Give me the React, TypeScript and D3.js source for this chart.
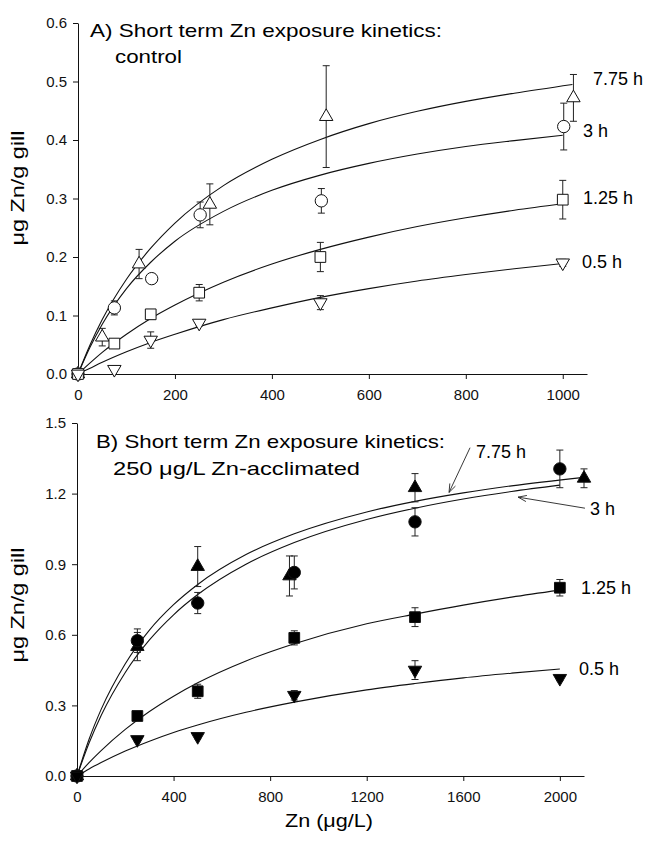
import React, { useEffect, useRef } from 'react';
import * as d3 from 'd3';

// ---------- Panel A: control ----------
const xTicksA = [0, 200, 400, 600, 800, 1000];
const yTicksA = [0, 0.1, 0.2, 0.3, 0.4, 0.5, 0.6];

// 7.75 h (open triangle)
const xA775 = [0, 50, 126, 272, 512, 1022];
const yA775 = [0, 0.063, 0.188, 0.29, 0.44, 0.472];
const eA775 = [0, 0.015, 0.025, 0.035, 0.087, 0.04];
// 3 h (open circle)
const xA3 = [0, 75, 152, 252, 502, 1002];
const yA3 = [0, 0.113, 0.163, 0.272, 0.296, 0.423];
const eA3 = [0, 0.012, 0.005, 0.022, 0.021, 0.04];
// 1.25 h (open square)
const xA125 = [0, 75, 150, 250, 500, 1000];
const yA125 = [0, 0.052, 0.102, 0.139, 0.2, 0.298];
const eA125 = [0, 0.004, 0.008, 0.014, 0.025, 0.033];
// 0.5 h (open down triangle)
const xA05 = [0, 75, 150, 250, 500, 1000];
const yA05 = [0, 0.008, 0.058, 0.087, 0.122, 0.19];
const eA05 = [0, 0, 0.014, 0.005, 0.012, 0.006];

// fitted curves
const fitXA = [0, 25, 50, 100, 150, 200, 300, 400, 500, 600, 700, 800, 900, 1000];
const fitXA775 = [0, 25, 50, 100, 150, 200, 300, 400, 500, 600, 700, 800, 900, 1020];
const fitA775 = [0, 0.05, 0.093, 0.162, 0.215, 0.258, 0.322, 0.367, 0.401, 0.428, 0.449, 0.466, 0.48, 0.495];
const fitA3 = [0, 0.046, 0.085, 0.146, 0.191, 0.227, 0.278, 0.314, 0.34, 0.36, 0.376, 0.389, 0.399, 0.408];
const fitA125 = [0, 0.019, 0.037, 0.068, 0.095, 0.118, 0.157, 0.188, 0.213, 0.234, 0.252, 0.267, 0.28, 0.291];
const fitA05 = [0, 0.01, 0.02, 0.038, 0.054, 0.068, 0.093, 0.113, 0.131, 0.146, 0.159, 0.17, 0.18, 0.189];

// ---------- Panel B: 250 ug/L Zn-acclimated ----------
const xTicksB = [0, 400, 800, 1200, 1600, 2000];
const yTicksB = [0, 0.3, 0.6, 0.9, 1.2, 1.5];

const xB775 = [0, 250, 500, 880, 1400, 2100];
const yB775 = [0, 0.55, 0.89, 0.85, 1.225, 1.265];
const eB775 = [0, 0.06, 0.085, 0.085, 0.06, 0.04];
const xB3 = [0, 250, 500, 900, 1400, 2000];
const yB3 = [0, 0.575, 0.735, 0.865, 1.08, 1.305];
const eB3 = [0, 0.05, 0.045, 0.07, 0.06, 0.08];
const xB125 = [0, 250, 500, 900, 1400, 2000];
const yB125 = [0, 0.255, 0.36, 0.587, 0.675, 0.8];
const eB125 = [0, 0.01, 0.03, 0.03, 0.04, 0.035];
const xB05 = [0, 250, 500, 900, 1400, 2000];
const yB05 = [0, 0.155, 0.168, 0.343, 0.45, 0.415];
const eB05 = [0, 0.01, 0.01, 0.02, 0.04, 0.01];

const fitXB = [0, 50, 100, 200, 300, 400, 500, 700, 900, 1200, 1400, 1600, 1800, 2000];
const fitXB775 = [0, 50, 100, 200, 300, 400, 500, 700, 900, 1200, 1400, 1600, 1800, 2100];
const fitB775 = [0, 0.156, 0.283, 0.477, 0.62, 0.728, 0.814, 0.941, 1.029, 1.122, 1.167, 1.203, 1.233, 1.269];
const fitB3 = [0, 0.14, 0.257, 0.44, 0.578, 0.685, 0.771, 0.9, 0.992, 1.09, 1.138, 1.177, 1.209, 1.236];
const fitB125 = [0, 0.057, 0.108, 0.198, 0.274, 0.339, 0.396, 0.489, 0.562, 0.647, 0.688, 0.726, 0.76, 0.79];
const fitB05 = [0, 0.03, 0.057, 0.106, 0.148, 0.185, 0.217, 0.271, 0.314, 0.366, 0.393, 0.417, 0.437, 0.455];

const seriesNames = ['7.75 h', '3 h', '1.25 h', '0.5 h'];

// ---------- layout ----------
const FONT = '"Liberation Sans", Arial, Helvetica, sans-serif';

const panels = [
  {
    xDomain: [0, 1050], yDomain: [0, 0.6],
    left: 78, right: 587, top: 23, bottom: 374,
    xTicks: xTicksA, yTicks: yTicksA,
    filled: false,
    series: [
      { x: xA775, y: yA775, e: eA775, fx: fitXA775, fy: fitA775, sym: 'up' },
      { x: xA3, y: yA3, e: eA3, fx: fitXA, fy: fitA3, sym: 'circle' },
      { x: xA125, y: yA125, e: eA125, fx: fitXA, fy: fitA125, sym: 'square' },
      { x: xA05, y: yA05, e: eA05, fx: fitXA, fy: fitA05, sym: 'down' },
    ],
    title: ['A) Short term Zn exposure kinetics:', 'control'],
    titlePos: [[90, 37, 352], [115, 63, 67]],
    labels: [[593, 85], [583, 137], [583, 204], [582, 268]],
    yLabelY: 188,
    arrows: [],
  },
  {
    xDomain: [0, 2100], yDomain: [0, 1.5],
    left: 77, right: 584, top: 423, bottom: 776,
    xTicks: xTicksB, yTicks: yTicksB,
    filled: true,
    series: [
      { x: xB775, y: yB775, e: eB775, fx: fitXB775, fy: fitB775, sym: 'up' },
      { x: xB3, y: yB3, e: eB3, fx: fitXB, fy: fitB3, sym: 'circle' },
      { x: xB125, y: yB125, e: eB125, fx: fitXB, fy: fitB125, sym: 'square' },
      { x: xB05, y: yB05, e: eB05, fx: fitXB, fy: fitB05, sym: 'down' },
    ],
    title: ['B) Short term Zn exposure kinetics:', '250 \u03bcg/L Zn-acclimated'],
    titlePos: [[96, 448, 349], [113, 475, 247]],
    labels: [[476, 458], [590, 515], [581, 594], [579, 675]],
    yLabelY: 605,
    // arrow tail -> tip, in data units
    arrows: [
      [[1628, 1.395], [1541, 1.205]],
      [[2104, 1.138], [1827, 1.185]],
    ],
  },
];

const symType = {
  up: d3.symbolTriangle,
  down: d3.symbolTriangle,
  circle: d3.symbolCircle,
  square: d3.symbolSquare,
};
const symSize = { up: 78, down: 78, circle: 120, square: 115 };

const App = () => {
  const svgRef = useRef(null);

  useEffect(() => {
    const svg = d3.select(svgRef.current);
    svg.selectAll('*').remove();

    panels.forEach((p) => {
      const x = d3.scaleLinear().domain(p.xDomain).range([p.left, p.right]);
      const y = d3.scaleLinear().domain(p.yDomain).range([p.bottom, p.top]);
      const g = svg.append('g');

      // axes
      const xAxis = g.append('g')
        .attr('transform', `translate(0,${p.bottom})`)
        .call(d3.axisBottom(x).tickValues(p.xTicks).tickSize(5).tickSizeOuter(0)
          .tickPadding(10).tickFormat(d3.format('d')));
      const yAxis = g.append('g')
        .attr('transform', `translate(${p.left},0)`)
        .call(d3.axisLeft(y).tickValues(p.yTicks).tickSize(5).tickSizeOuter(0)
          .tickPadding(6).tickFormat(d3.format('.1f')));
      [xAxis, yAxis].forEach((a) => {
        a.attr('font-family', FONT).attr('font-size', 15);
        a.selectAll('path,line').attr('stroke', '#111').attr('stroke-width', 1);
        a.selectAll('text').attr('fill', '#111');
      });

      // y axis label
      g.append('text')
        .attr('transform', `translate(24,${p.yLabelY}) rotate(-90)`)
        .attr('text-anchor', 'middle')
        .attr('font-family', FONT).attr('font-size', 18)
        .attr('textLength', 115).attr('lengthAdjust', 'spacingAndGlyphs')
        .text('\u03bcg Zn/g gill');

      // title
      p.title.forEach((t, i) => {
        const [tx, ty, tl] = p.titlePos[i];
        g.append('text')
          .attr('x', tx).attr('y', ty)
          .attr('font-family', FONT).attr('font-size', 19)
          .attr('textLength', tl).attr('lengthAdjust', 'spacingAndGlyphs')
          .text(t);
      });

      const line = d3.line().x((d) => x(d[0])).y((d) => y(d[1])).curve(d3.curveMonotoneX);

      // fitted curves
      p.series.forEach((s) => {
        g.append('path')
          .attr('d', line(s.fx.map((v, i) => [v, s.fy[i]])))
          .attr('fill', 'none').attr('stroke', '#111').attr('stroke-width', 1.1);
      });

      // error bars
      p.series.forEach((s) => {
        s.x.forEach((xv, i) => {
          const e = s.e[i];
          if (!e) return;
          const cx = x(xv);
          const y1 = y(s.y[i] - e);
          const y2 = y(s.y[i] + e);
          const eg = g.append('g').attr('stroke', '#222').attr('stroke-width', 1);
          eg.append('line').attr('x1', cx).attr('x2', cx).attr('y1', y1).attr('y2', y2);
          eg.append('line').attr('x1', cx - 3.5).attr('x2', cx + 3.5).attr('y1', y1).attr('y2', y1);
          eg.append('line').attr('x1', cx - 3.5).attr('x2', cx + 3.5).attr('y1', y2).attr('y2', y2);
        });
      });

      // markers
      p.series.forEach((s) => {
        const path = d3.symbol().type(symType[s.sym]).size(symSize[s.sym])();
        s.x.forEach((xv, i) => {
          g.append('path')
            .attr('d', path)
            .attr('transform', `translate(${x(xv)},${y(s.y[i])})${s.sym === 'down' ? ' rotate(180)' : ''}`)
            .attr('fill', p.filled ? '#000' : '#fff')
            .attr('stroke', '#111').attr('stroke-width', 1);
        });
      });

      // series labels
      seriesNames.forEach((n, i) => {
        g.append('text')
          .attr('x', p.labels[i][0]).attr('y', p.labels[i][1])
          .attr('font-family', FONT).attr('font-size', 18)
          .text(n);
      });

      // annotation arrows
      p.arrows.forEach(([from, to]) => {
        const x1 = x(from[0]), y1 = y(from[1]);
        const x2 = x(to[0]), y2 = y(to[1]);
        const ang = Math.atan2(y2 - y1, x2 - x1);
        const h = 9, spread = 0.35;
        const ag = g.append('g').attr('stroke', '#222').attr('stroke-width', 0.9).attr('fill', 'none');
        ag.append('line').attr('x1', x1).attr('y1', y1).attr('x2', x2).attr('y2', y2);
        ag.append('path').attr('d',
          `M${x2 - h * Math.cos(ang - spread)},${y2 - h * Math.sin(ang - spread)}` +
          `L${x2},${y2}L${x2 - h * Math.cos(ang + spread)},${y2 - h * Math.sin(ang + spread)}`);
      });
    });

    // x axis title
    svg.append('text')
      .attr('x', 329).attr('y', 827)
      .attr('text-anchor', 'middle')
      .attr('font-family', FONT).attr('font-size', 18)
      .attr('textLength', 88).attr('lengthAdjust', 'spacingAndGlyphs')
      .text('Zn (\u03bcg/L)');
  }, []);

  return (
    <svg
      ref={svgRef}
      width={648}
      height={842}
      style={{ position: 'absolute', left: 0, top: 0, background: '#fff' }}
    />
  );
};

export default App;
